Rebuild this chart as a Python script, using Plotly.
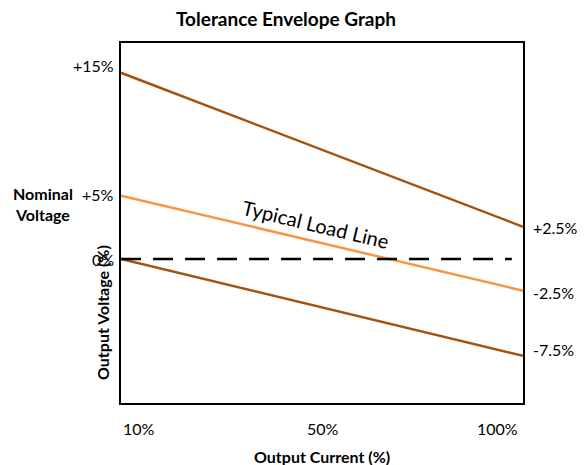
import plotly.graph_objects as go

# Data
current_pct = [10, 100]
upper_limit = [15, 2.6]
typical_load = [5.1, -2.55]
lower_limit = [0, -7.8]
nominal = [0, 0]

x_tick_vals = [14.0, 55.2, 94.2]
x_tick_text = ["10%", "50%", "100%"]
left_label_vals = [15.6, 5.2, 0.0]
left_label_text = ["+15%", "+5%", "0%"]
right_label_vals = [2.5, -2.7, -7.3]
right_label_text = ["+2.5%", "-2.5%", "-7.5%"]

DARK = "#A4520E"
LIGHT = "#F79646"
FONT = "Lato"

# page body margin offset (browser default)
OFF = 8
W, H = 585 - OFF, 465 - OFF
plot_l, plot_r, plot_t, plot_b = 121 - OFF, 523 - OFF, 43 - OFF, 403 - OFF
pw, ph = plot_r - plot_l, plot_b - plot_t

fig = go.Figure()
fig.add_trace(go.Scatter(x=current_pct, y=upper_limit, mode="lines",
                         line=dict(color=DARK, width=2.5), hoverinfo="skip"))
fig.add_trace(go.Scatter(x=current_pct, y=typical_load, mode="lines",
                         line=dict(color=LIGHT, width=2.5), hoverinfo="skip"))
fig.add_trace(go.Scatter(x=current_pct, y=lower_limit, mode="lines",
                         line=dict(color=DARK, width=2.5), hoverinfo="skip"))
fig.add_trace(go.Scatter(x=[current_pct[0], 97.5], y=nominal, mode="lines",
                         line=dict(color="black", width=2.5, dash="20px,12px"),
                         hoverinfo="skip"))

annotations = []
for v, t in zip(x_tick_vals, x_tick_text):
    annotations.append(dict(x=v, y=-25 / ph, xref="x", yref="paper", text=t,
                            xanchor="center", yanchor="middle",
                            showarrow=False, font=dict(size=16, color="black")))
for v, t in zip(left_label_vals, left_label_text):
    annotations.append(dict(x=0, y=v, xref="paper", yref="y", text=t,
                            xanchor="right", yanchor="middle", xshift=-5, showarrow=False,
                            font=dict(size=16, color="black")))
for v, t in zip(right_label_vals, right_label_text):
    annotations.append(dict(x=1, y=v, xref="paper", yref="y", text=t,
                            xanchor="left", yanchor="middle", xshift=8, showarrow=False,
                            font=dict(size=16, color="black")))

annotations += [
    dict(x=(322 - 121) / pw, y=-(457 - 403) / ph, xref="paper", yref="paper",
         text="<b>Output Current (%)</b>", xanchor="center", yanchor="middle",
         showarrow=False, font=dict(size=16, color="black")),
    dict(x=(102 - 121) / pw, y=(403 - 313) / ph, xref="paper", yref="paper",
         text="<b>Output Voltage (%)</b>", xanchor="center", yanchor="middle",
         textangle=-90, showarrow=False, font=dict(size=16, color="black")),
    dict(x=(43 - 121) / pw, y=(403 - 204) / ph, xref="paper", yref="paper",
         text="<b>Nominal<br>Voltage</b>", showarrow=False, align="center",
         xanchor="center", yanchor="middle",
         font=dict(size=16, color="black")),
    dict(x=53.6, y=2.85, xref="x", yref="y", text="Typical Load Line",
         xanchor="center", yanchor="middle",
         textangle=13.4, showarrow=False, font=dict(size=20, color="black")),
]

fig.update_layout(
    width=W, height=H,
    margin=dict(l=plot_l, r=W - plot_r, t=plot_t, b=H - plot_b),
    paper_bgcolor="white", plot_bgcolor="white",
    showlegend=False,
    font=dict(family=FONT, color="black"),
    title=dict(text="<b>Tolerance Envelope Graph</b>", x=(286 - OFF) / W, xanchor="center",
               y=1 - (19 - OFF) / H, yanchor="middle", font=dict(size=19, color="black")),
    xaxis=dict(range=[10, 100], showgrid=False, zeroline=False, showticklabels=False,
               showline=True, mirror=True, linecolor="black", linewidth=2, ticks=""),
    yaxis=dict(range=[-11.6, 17.4], showgrid=False, zeroline=False, showticklabels=False,
               showline=True, mirror=True, linecolor="black", linewidth=2, ticks=""),
    annotations=annotations,
)

fig.write_html("out.html")
